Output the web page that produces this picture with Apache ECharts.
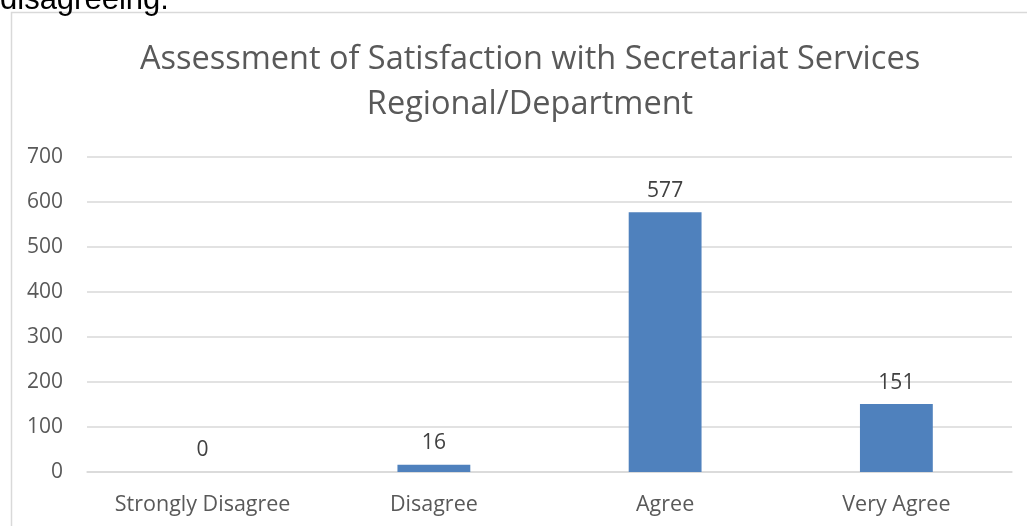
<!DOCTYPE html>
<html>
<head>
<meta charset="utf-8">
<script src="https://cdn.jsdelivr.net/npm/echarts@6/dist/echarts.min.js"></script>
<style>
  html, body { margin: 0; padding: 0; background: #fff; }
  #chart { width: 1027px; height: 526px; }
</style>
</head>
<body>
<div id="chart"></div>
<script>
// Satisfaction ratings and respondent counts
const categories = ['Strongly Disagree', 'Disagree', 'Agree', 'Very Agree'];
const counts = [0, 16, 577, 151];
const titleLines = ['Assessment of Satisfaction with Secretariat Services', 'Regional/Department'];
const leadText = 'disagreeing.';

const chart = echarts.init(document.getElementById('chart'), null, { renderer: 'canvas' });
const font = '"Open Sans", Lato, sans-serif';

chart.setOption({
  animation: false,
  backgroundColor: '#ffffff',
  title: {
    text: titleLines.join('\n'),
    left: 525,
    top: 32,
    textAlign: 'center',
    textStyle: {
      fontFamily: font,
      fontWeight: 'normal',
      fontSize: 32.5,
      lineHeight: 45,
      color: '#595959'
    }
  },
  graphic: [
    {
      type: 'rect',
      shape: { x: 11.5, y: 12.5, width: 1030, height: 530 },
      style: { fill: null, stroke: '#d9d9d9', lineWidth: 1.5 },
      silent: true
    },
    {
      type: 'text',
      left: 0,
      top: -15,
      style: {
        text: leadText,
        fontFamily: '"Liberation Sans", Arial, sans-serif',
        fontSize: 31,
        fill: '#000000'
      }
    }
  ],
  grid: { left: 87, right: 15, top: 157, bottom: 54, containLabel: false },
  xAxis: {
    type: 'category',
    data: categories,
    axisLine: { show: true, lineStyle: { color: '#d9d9d9', width: 1.5 } },
    axisTick: { show: false },
    axisLabel: { color: '#595959', fontFamily: font, fontSize: 21.5, margin: 22 }
  },
  yAxis: {
    type: 'value',
    min: 0,
    max: 700,
    interval: 100,
    axisLine: { show: false },
    axisTick: { show: false },
    splitLine: { lineStyle: { color: '#d9d9d9', width: 1.5 } },
    axisLabel: { color: '#595959', fontFamily: font, fontSize: 21, margin: 24 }
  },
  series: [{
    type: 'bar',
    data: counts,
    barWidth: '31.5%',
    itemStyle: { color: '#4f81bd' },
    label: {
      show: true,
      position: 'top',
      distance: 11,
      color: '#404040',
      fontFamily: font,
      fontSize: 21
    }
  }]
});
</script>
</body>
</html>
